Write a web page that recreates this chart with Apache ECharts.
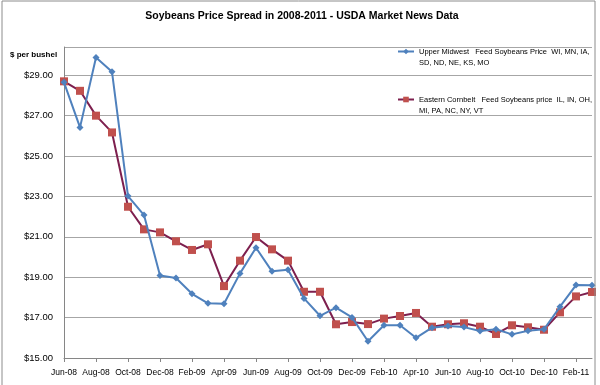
<!DOCTYPE html>
<html>
<head>
<meta charset="utf-8">
<script src="https://cdn.jsdelivr.net/npm/echarts@6/dist/echarts.min.js"></script>
<style>html,body{margin:0;padding:0;background:#fff}#c{width:600px;height:385px}</style>
</head>
<body>
<div id="c"></div>
<script>
const months = ['Jun-08','Jul-08','Aug-08','Sep-08','Oct-08','Nov-08','Dec-08','Jan-09','Feb-09','Mar-09','Apr-09','May-09','Jun-09','Jul-09','Aug-09','Sep-09','Oct-09','Nov-09','Dec-09','Jan-10','Feb-10','Mar-10','Apr-10','May-10','Jun-10','Jul-10','Aug-10','Sep-10','Oct-10','Nov-10','Dec-10','Jan-11','Feb-11','Mar-11'];
const upperMidwest = [28.65,26.42,29.88,29.17,23.02,22.08,19.09,18.96,18.18,17.71,17.69,19.19,20.46,19.29,19.37,17.95,17.09,17.49,17.01,15.83,16.62,16.62,16.00,16.50,16.58,16.53,16.34,16.42,16.17,16.35,16.42,17.54,18.61,18.60];
const easternCornbelt = [28.70,28.23,27.00,26.17,22.49,21.37,21.22,20.78,20.35,20.63,18.56,19.82,20.99,20.38,19.82,18.28,18.28,16.67,16.78,16.68,16.95,17.08,17.23,16.55,16.67,16.72,16.55,16.19,16.62,16.52,16.40,17.26,18.05,18.27];
const seriesNames = ['Upper Midwest   Feed Soybeans Price  WI, MN, IA,\nSD, ND, NE, KS, MO',
                     'Eastern Cornbelt   Feed Soybeans price  IL, IN, OH,\nMI, PA, NC, NY, VT'];
const titleText = 'Soybeans Price Spread in 2008-2011 - USDA Market News Data';
const yTitle = '$ per bushel';

const FONT = '"Liberation Sans", Arial, sans-serif';
const chart = echarts.init(document.getElementById('c'), null, {renderer: 'canvas'});
chart.setOption({
  animation: false,
  backgroundColor: '#fff',
  title: {
    text: titleText, left: 297, top: 6, textAlign: 'center',
    textStyle: {fontFamily: FONT, fontSize: 10.5, fontWeight: 'bold', color: '#000'}
  },
  graphic: [
    {type: 'rect', shape: {x: 2, y: 1, width: 593, height: 400}, style: {fill: null, stroke: '#8c8c8c', lineWidth: 1}, silent: true, z: 100},
    {type: 'text', left: 10, top: 51, style: {text: yTitle, fontFamily: FONT, fontSize: 8, fontWeight: 'bold', fill: '#000'}}
  ],
  legend: {
    orient: 'vertical', left: 397, top: 35, padding: 0, itemGap: 15,
    itemWidth: 16, itemHeight: 7,
    formatter: n => ' \n' + n,
    textStyle: {fontFamily: FONT, fontSize: 7.5, lineHeight: 11, color: '#000'},
    data: seriesNames
  },
  grid: {left: 64, right: 8, top: 47, bottom: 27, containLabel: false},
  xAxis: {
    type: 'category', data: months, boundaryGap: false,
    axisLine: {lineStyle: {color: '#868686', width: 1}},
    axisTick: {show: true, interval: 1, length: 4, lineStyle: {color: '#868686'}},
    axisLabel: {interval: 1, margin: 10, fontFamily: FONT, fontSize: 8.5, color: '#000'},
    splitLine: {show: false}
  },
  yAxis: {
    type: 'value', min: 15, max: 30.4, interval: 2,
    axisLine: {show: true, lineStyle: {color: '#868686', width: 1}},
    axisTick: {show: false},
    axisLabel: {margin: 11, fontFamily: FONT, fontSize: 9.5, color: '#000', showMaxLabel: false,
      formatter: v => ((v - 15) % 2 === 0 ? '$' + v.toFixed(2) : '')},
    splitLine: {show: true, lineStyle: {color: '#a6a6a6', width: 1}}
  },
  series: [
    {name: seriesNames[0], type: 'line', data: upperMidwest, symbol: 'diamond', symbolSize: 7,
     itemStyle: {color: '#4f81bd'}, lineStyle: {color: '#4f81bd', width: 2}, z: 3},
    {name: seriesNames[1], type: 'line', data: easternCornbelt, symbol: 'rect', symbolSize: 8,
     itemStyle: {color: '#c0504d'}, lineStyle: {color: '#7d1f4e', width: 2}, z: 2}
  ]
});
</script>
</body>
</html>
